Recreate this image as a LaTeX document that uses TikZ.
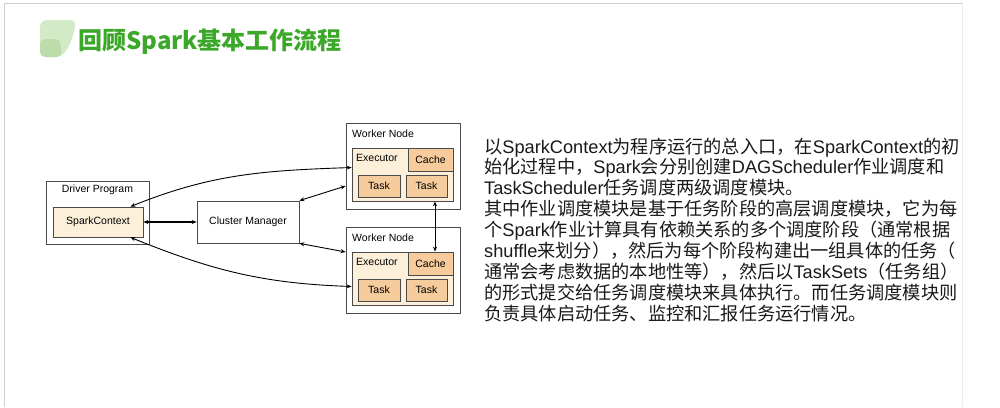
\documentclass[tikz,border=0pt]{standalone}
\usepackage{fontspec}
\setmainfont{Liberation Sans}
\newfontfamily\cjk{Noto Sans CJK SC}
\newfontfamily\latfont{Liberation Sans}
\newcommand\lat[1]{{\latfont #1}}
\usetikzlibrary{arrows.meta,positioning}
\definecolor{titlegreen}{HTML}{3CA82A}
\definecolor{leafa}{HTML}{D2EAC6}
\definecolor{leafb}{HTML}{BCDDAB}
\definecolor{cream}{HTML}{FDF0DA}
\definecolor{peach}{HTML}{F7CC9C}
\definecolor{edge}{HTML}{4A4A4A}
\definecolor{frame}{HTML}{CFCFCF}

\begin{document}
\begin{tikzpicture}[x=1pt,y=-1pt, every node/.style={font=\fontsize{10.5}{12}\selectfont,inner sep=0pt},
 box/.style={draw=edge,line width=.7pt,fill=white},
 cbox/.style={draw=edge,line width=.7pt,fill=cream},
 pbox/.style={draw=edge,line width=.8pt,fill=peach},
 arr/.style={{Stealth[length=5pt,width=4pt]}-{Stealth[length=5pt,width=4pt]},line width=.9pt},
 tarr/.style={arr,line width=1.7pt}]
\useasboundingbox (0,0) rectangle (1000,407);
\draw[frame,line width=1pt] (4,407)--(4,3)--(962,3);
\draw[frame!40,line width=1pt] (962,3)--(962,407);
% title
\fill[leafa,rounded corners=7pt] (40,57)--(40,20)--(77,20)--(71,43)--(62,57)--cycle;
\fill[leafb,rounded corners=5pt] (40,57)--(40,39)--(60,39)--(62,57)--cycle;
\node[anchor=west,text=titlegreen,font=\cjk\bfseries\fontsize{24}{26}\selectfont] (title) at (78,42) {回顾Spark基本工作流程};
% diagram
\node[box,minimum width=103pt,minimum height=63pt] (driver) at (97.5,212.5) {};
\node (drvlab) at (97.5,190) {Driver Program};
\node[cbox,minimum width=90pt,minimum height=30pt] (sc) at (98,222) {SparkContext};
\node[box,minimum width=102pt,minimum height=42pt] (cm) at (248,222) {Cluster Manager};
\foreach \i/\y in {1/166,2/270}{
 \node[box,minimum width=114pt,minimum height=86pt] (w\i) at (403,\y) {};
 \node[anchor=west] (wlab\i) at (352,\y-32) {Worker Node};
 \node[cbox,minimum width=101pt,minimum height=53pt] (ex\i) at (402.5,\y+8.5) {};
 \node[anchor=west] (exlab\i) at (356,\y-8) {Executor};
 \node[pbox,minimum width=45pt,minimum height=23pt] (ca\i) at (430.5,\y-6.5) {Cache};
 \node[pbox,minimum width=42pt,minimum height=22pt] (ta\i) at (379,\y+20) {Task};
 \node[pbox,minimum width=41pt,minimum height=22pt] (tb\i) at (426.5,\y+20) {Task};
}
\draw[tarr] (sc.east)--(cm.west);
\draw[arr] (cm.north east)--([yshift=-20pt]w1.west);
\draw[arr] (cm.south east)--([yshift=18pt]w2.west);
\draw[arr] ([xshift=-13pt]sc.north east) to[out=22,in=182] ([yshift=7pt]ex1.west);
\draw[arr] ([xshift=-13pt]sc.south east) to[out=-22,in=178] ([yshift=-8pt]ex2.west);
\draw[arr] ([xshift=4.5pt]ca2.north)--([xshift=4.5pt]ca2.north |- ex1.south);
% text
\node[anchor=north west,align=left,text=black!90,font=\cjk\fontsize{18.2}{20.9}\selectfont] (desc) at (484,137.5) {%
以\lat{SparkContext}为程序运行的总入口，在\lat{SparkContext}的初\\
始化过程中，\lat{Spark}会分别创建\lat{DAGScheduler}作业调度和\\
\lat{TaskScheduler}任务调度两级调度模块。\\
其中作业调度模块是基于任务阶段的高层调度模块，它为每\\
个\lat{Spark}作业计算具有依赖关系的多个调度阶段（通常根据\\
\lat{shuffle}来划分），然后为每个阶段构建出一组具体的任务（\\
通常会考虑数据的本地性等），然后以\lat{TaskSets}（任务组）\\
的形式提交给任务调度模块来具体执行。而任务调度模块则\\
负责具体启动任务、监控和汇报任务运行情况。};
\end{tikzpicture}
\end{document}
